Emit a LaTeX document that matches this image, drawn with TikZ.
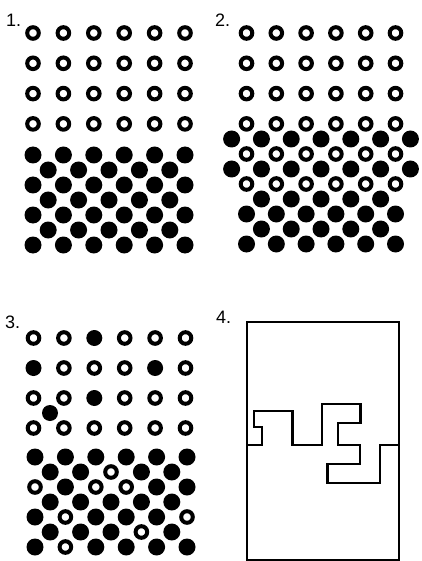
\documentclass[tikz,border=0pt]{standalone}
\usepackage{fontspec}
\setmainfont{Liberation Sans}
\newcommand{\pdot}[3]{\ifnum#3=1 \fill[blackdot] ({#1},{#2}) circle[radius=8.5pt];\else\draw[ring] ({#1},{#2}) circle[radius=5.8pt];\fi}
\begin{document}
\begin{tikzpicture}[x=1pt,y=-1pt,
  ring/.style={draw=black,line width=4pt,fill=white},
  blackdot/.style={fill=black},
  smalldot/.style={fill=black},
  lab/.style={anchor=base west,inner sep=0pt,font=\fontsize{18}{21}\selectfont},
  frame/.style={draw=black,line width=2.2pt,line join=miter}]
\useasboundingbox (0,0) rectangle (422,561);
% ---------- labels ----------
\node[lab] (l1) at (6,27) {1.};
\node[lab] (l2) at (215,27) {2.};
\node[lab] (l3) at (5,328) {3.};
\node[lab] (l4) at (216,323) {4.};
% ---------- panel 1 ----------
\foreach \r in {0,...,3} \foreach \c in {0,...,5}
  \draw[ring] ({33+30.4*\c},{33+30.3*\r}) circle[radius=5.8pt];
\foreach \r in {0,2,4,6} \foreach \c in {0,...,5}
  \fill[blackdot] ({33+30.4*\c},{155+15*\r}) circle[radius=8.5pt];
\foreach \r in {1,3,5} \foreach \c in {0,...,4}
  \fill[blackdot] ({48.2+30.4*\c},{155+15*\r}) circle[radius=8.5pt];
% ---------- panel 2 ----------
\foreach \y in {139,169} \foreach \c in {0,...,6}
  \fill[blackdot] ({231.6+29.8*\c},\y) circle[radius=8.5pt];
\foreach \y in {199,229} \foreach \c in {0,...,4}
  \fill[blackdot] ({261.4+29.8*\c},\y) circle[radius=8.5pt];
\foreach \y in {214,244} \foreach \c in {0,...,5}
  \fill[blackdot] ({246.5+29.8*\c},\y) circle[radius=8.5pt];
\foreach \y in {154,184} \foreach \c in {0,...,5}
  \draw[ring] ({246.5+29.8*\c},\y) circle[radius=5.8pt];
\foreach \r in {0,...,3} \foreach \c in {0,...,5}
  \draw[ring] ({246.5+29.8*\c},{33+30.3*\r}) circle[radius=5.8pt];
% ---------- panel 3 (upper) ----------
\foreach \y/\row in {338/{0,0,1,0,0,0},368/{1,0,0,0,1,0},398/{0,0,1,0,0,0},428/{0,0,0,0,0,0}}
  \foreach \t [count=\c from 0] in \row {
    \ifnum\t=1 \fill[smalldot] ({33.5+30.4*\c},\y) circle[radius=8pt];
    \else \draw[ring] ({33.5+30.4*\c},\y) circle[radius=5.8pt];\fi}
\fill[smalldot] (50,413) circle[radius=8pt];
% ---------- panel 3 (lower) ----------
\foreach \y/\row in {457/{1,1,1,1,1,1},487/{0,1,0,0,1,1},517/{1,0,1,1,1,0},547/{1,0,1,1,1,1}}
  \foreach \t [count=\c from 0] in \row {\pdot{35+30.4*\c}{\y}{\t}}
\foreach \y/\row in {472/{1,1,0,1,1},502/{1,1,1,1,1},532/{1,1,1,0,1}}
  \foreach \t [count=\c from 0] in \row {\pdot{50.2+30.4*\c}{\y}{\t}}
% ---------- panel 4 ----------
\coordinate (tl) at (246.7,321.7);
\coordinate (br) at (398.7,560);
\draw[frame] (tl) rectangle (br);
\coordinate (ls) at (246.7,445);
\coordinate (rs) at (398.7,445);
\draw[frame] (ls) -- (261.7,445) -- (261.7,426.7) -- (254.3,426.7) -- (254.3,411)
  -- (292.5,411) -- (292.5,445) -- (322,445) -- (322,404) -- (360.5,404)
  -- (360.5,423.3) -- (337.7,423.3) -- (337.7,445) -- (360,445) -- (360,464.3)
  -- (327.5,464.3) -- (327.5,483.3) -- (380,483.3) -- (380,445) -- (rs);
\end{tikzpicture}
\end{document}
